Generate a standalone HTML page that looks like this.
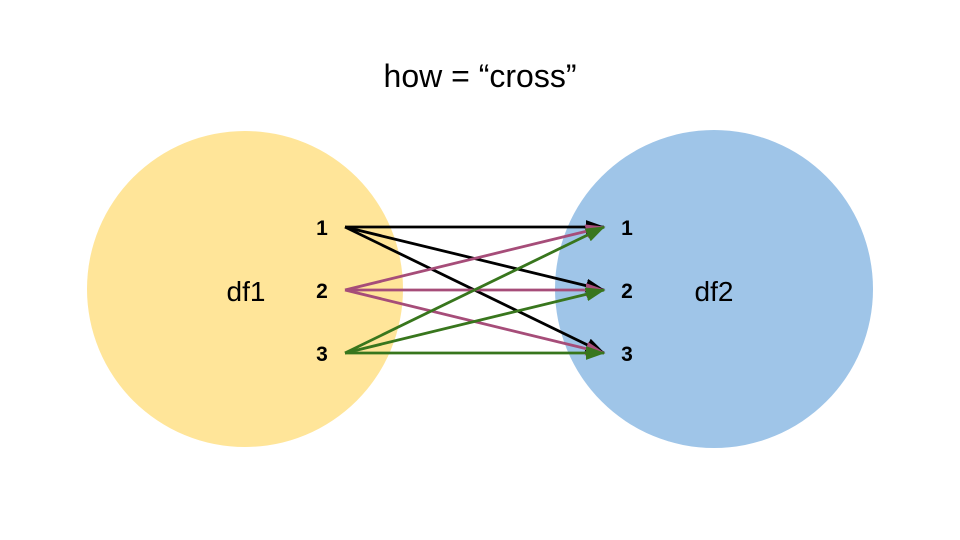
<!DOCTYPE html>
<html><head><meta charset="utf-8"><style>html,body{margin:0;padding:0;background:#fff}</style></head>
<body>
<svg width="960" height="540" xmlns="http://www.w3.org/2000/svg" style="display:block">
<defs>
<marker id="mk" markerWidth="7" markerHeight="5" refX="6.5" refY="2.5" orient="auto" markerUnits="strokeWidth"><path d="M0,0 L7,2.5 L0,5 z" fill="#000"/></marker>
<marker id="mm" markerWidth="7" markerHeight="5" refX="6.5" refY="2.5" orient="auto" markerUnits="strokeWidth"><path d="M0,0 L7,2.5 L0,5 z" fill="#a64d79"/></marker>
<marker id="mg" markerWidth="7" markerHeight="5" refX="6.5" refY="2.5" orient="auto" markerUnits="strokeWidth"><path d="M0,0 L7,2.5 L0,5 z" fill="#38761d"/></marker>
</defs>
<circle cx="245" cy="289" r="158" fill="#ffe599"/>
<circle cx="714" cy="289" r="159" fill="#9fc5e8"/>
<text x="480" y="87" font-family="Liberation Sans, sans-serif" font-size="32" text-anchor="middle" fill="#000">how = “cross”</text>
<text x="246" y="301" font-family="Liberation Sans, sans-serif" font-size="28" text-anchor="middle">df1</text>
<text x="714" y="301" font-family="Liberation Sans, sans-serif" font-size="28" text-anchor="middle">df2</text>
<g font-family="Liberation Sans, sans-serif" font-size="21" font-weight="bold" text-anchor="middle">
<text x="322" y="235">1</text><text x="322" y="298">2</text><text x="322" y="361">3</text>
<text x="627" y="235">1</text><text x="627" y="298">2</text><text x="627" y="361">3</text>
</g>
<g stroke-width="2.8" fill="none">
<line x1="345" y1="227" x2="604" y2="227" stroke="#000" marker-end="url(#mk)"/>
<line x1="345" y1="227" x2="604" y2="290" stroke="#000" marker-end="url(#mk)"/>
<line x1="345" y1="227" x2="604" y2="353" stroke="#000" marker-end="url(#mk)"/>
<line x1="345" y1="290" x2="604" y2="227" stroke="#a64d79" marker-end="url(#mm)"/>
<line x1="345" y1="290" x2="604" y2="290" stroke="#a64d79" marker-end="url(#mm)"/>
<line x1="345" y1="290" x2="604" y2="353" stroke="#a64d79" marker-end="url(#mm)"/>
<line x1="345" y1="353" x2="604" y2="227" stroke="#38761d" marker-end="url(#mg)"/>
<line x1="345" y1="353" x2="604" y2="290" stroke="#38761d" marker-end="url(#mg)"/>
<line x1="345" y1="353" x2="604" y2="353" stroke="#38761d" marker-end="url(#mg)"/>
</g>
</svg>
</body></html>
